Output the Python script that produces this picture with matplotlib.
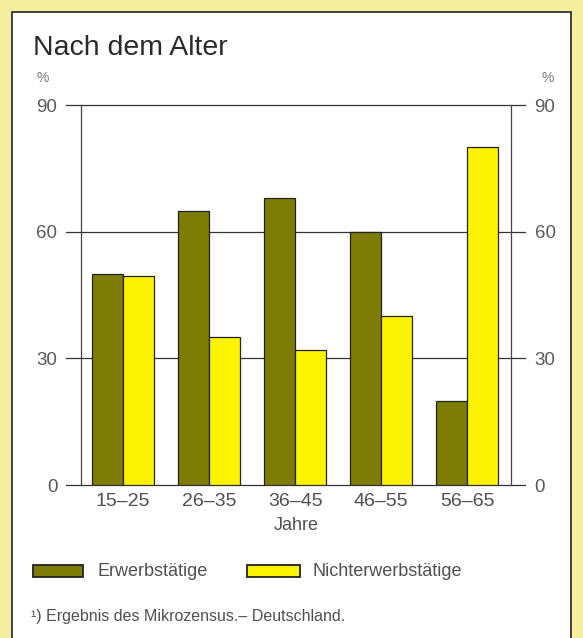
import matplotlib
matplotlib.use('Agg')
import numpy as np
import matplotlib.pyplot as plt
from matplotlib.patches import Rectangle

plt.rcParams['font.family'] = ['Liberation Sans', 'DejaVu Sans']

# data
age_groups = ['15–25', '26–35', '36–45', '46–55', '56–65']
erwerbstaetige = [50, 65, 68, 60, 20]
nichterwerbstaetige = [49.5, 35, 32, 40, 80]
yticks = [0, 30, 60, 90]

dark = '#7d7c05'
yellow = '#fbf300'
txt = '#505050'
W, H = 583, 638

fig = plt.figure(figsize=(W / 100, H / 100), dpi=100)
fig.patch.set_facecolor('#f7efa0')

# white panel with dark frame
fig.patches.append(Rectangle((12 / W, -0.01), 559 / W, 1 - 12 / H + 0.01,
                             transform=fig.transFigure, facecolor='white',
                             edgecolor='#333333', linewidth=1.3, zorder=-5))

ax = fig.add_axes([81 / W, 1 - 485 / H, (511 - 81) / W, (485 - 105) / H])
ax.set_zorder(2)
ax.set_facecolor('none')
x = np.arange(len(age_groups))
w = 0.36
ax.bar(x - w / 2, erwerbstaetige, w, color=dark, edgecolor='#222222', linewidth=0.9, zorder=3)
ax.bar(x + w / 2, nichterwerbstaetige, w, color=yellow, edgecolor='#222222', linewidth=0.9, zorder=3)
ax.set_xlim(-0.49, 4.51)
ax.set_ylim(0, 90)

for s in ['top', 'bottom']:
    ax.spines[s].set_visible(False)
for s in ['left', 'right']:
    ax.spines[s].set_color('#444444')
    ax.spines[s].set_linewidth(0.9)

# horizontal lines that run slightly past the frame
for v in yticks:
    ax.plot([-0.67, 4.67], [v, v], color='#333333', lw=0.9, clip_on=False, zorder=2)

ax.set_yticks(yticks)
ax.tick_params(axis='y', length=0, pad=17, labelsize=13.5, labelcolor='#5a5a5a',
               left=True, right=True, labelleft=True, labelright=True)
ax.set_xticks(x)
ax.set_xticklabels(age_groups)
ax.tick_params(axis='x', length=0, pad=6, labelsize=14, labelcolor=txt)

fig.text(296 / W, 1 - 525 / H, 'Jahre', fontsize=13, color=txt, va='center', ha='center')
fig.text(33 / W, 1 - 48 / H, 'Nach dem Alter', fontsize=20.5, color='#2a2a2a', va='center')
fig.text(43 / W, 1 - 78 / H, '%', fontsize=10, color='#777777', va='center', ha='center')
fig.text(548 / W, 1 - 78 / H, '%', fontsize=10, color='#777777', va='center', ha='center')

# legend
fig.patches.append(Rectangle((33 / W, 1 - 577 / H), 50 / W, 12 / H, transform=fig.transFigure,
                             facecolor=dark, edgecolor='#222222', linewidth=1.3))
fig.text(97 / W, 1 - 571 / H, 'Erwerbstätige', fontsize=13, color=txt, va='center')
fig.patches.append(Rectangle((247 / W, 1 - 577 / H), 53 / W, 12 / H, transform=fig.transFigure,
                             facecolor=yellow, edgecolor='#222222', linewidth=1.3))
fig.text(313 / W, 1 - 571 / H, 'Nichterwerbstätige', fontsize=13, color=txt, va='center')

fig.text(31 / W, 1 - 617 / H, '¹) Ergebnis des Mikrozensus.– Deutschland.', fontsize=11.5,
         color=txt, va='center')

fig.savefig('out.png', dpi=100, facecolor=fig.get_facecolor())
